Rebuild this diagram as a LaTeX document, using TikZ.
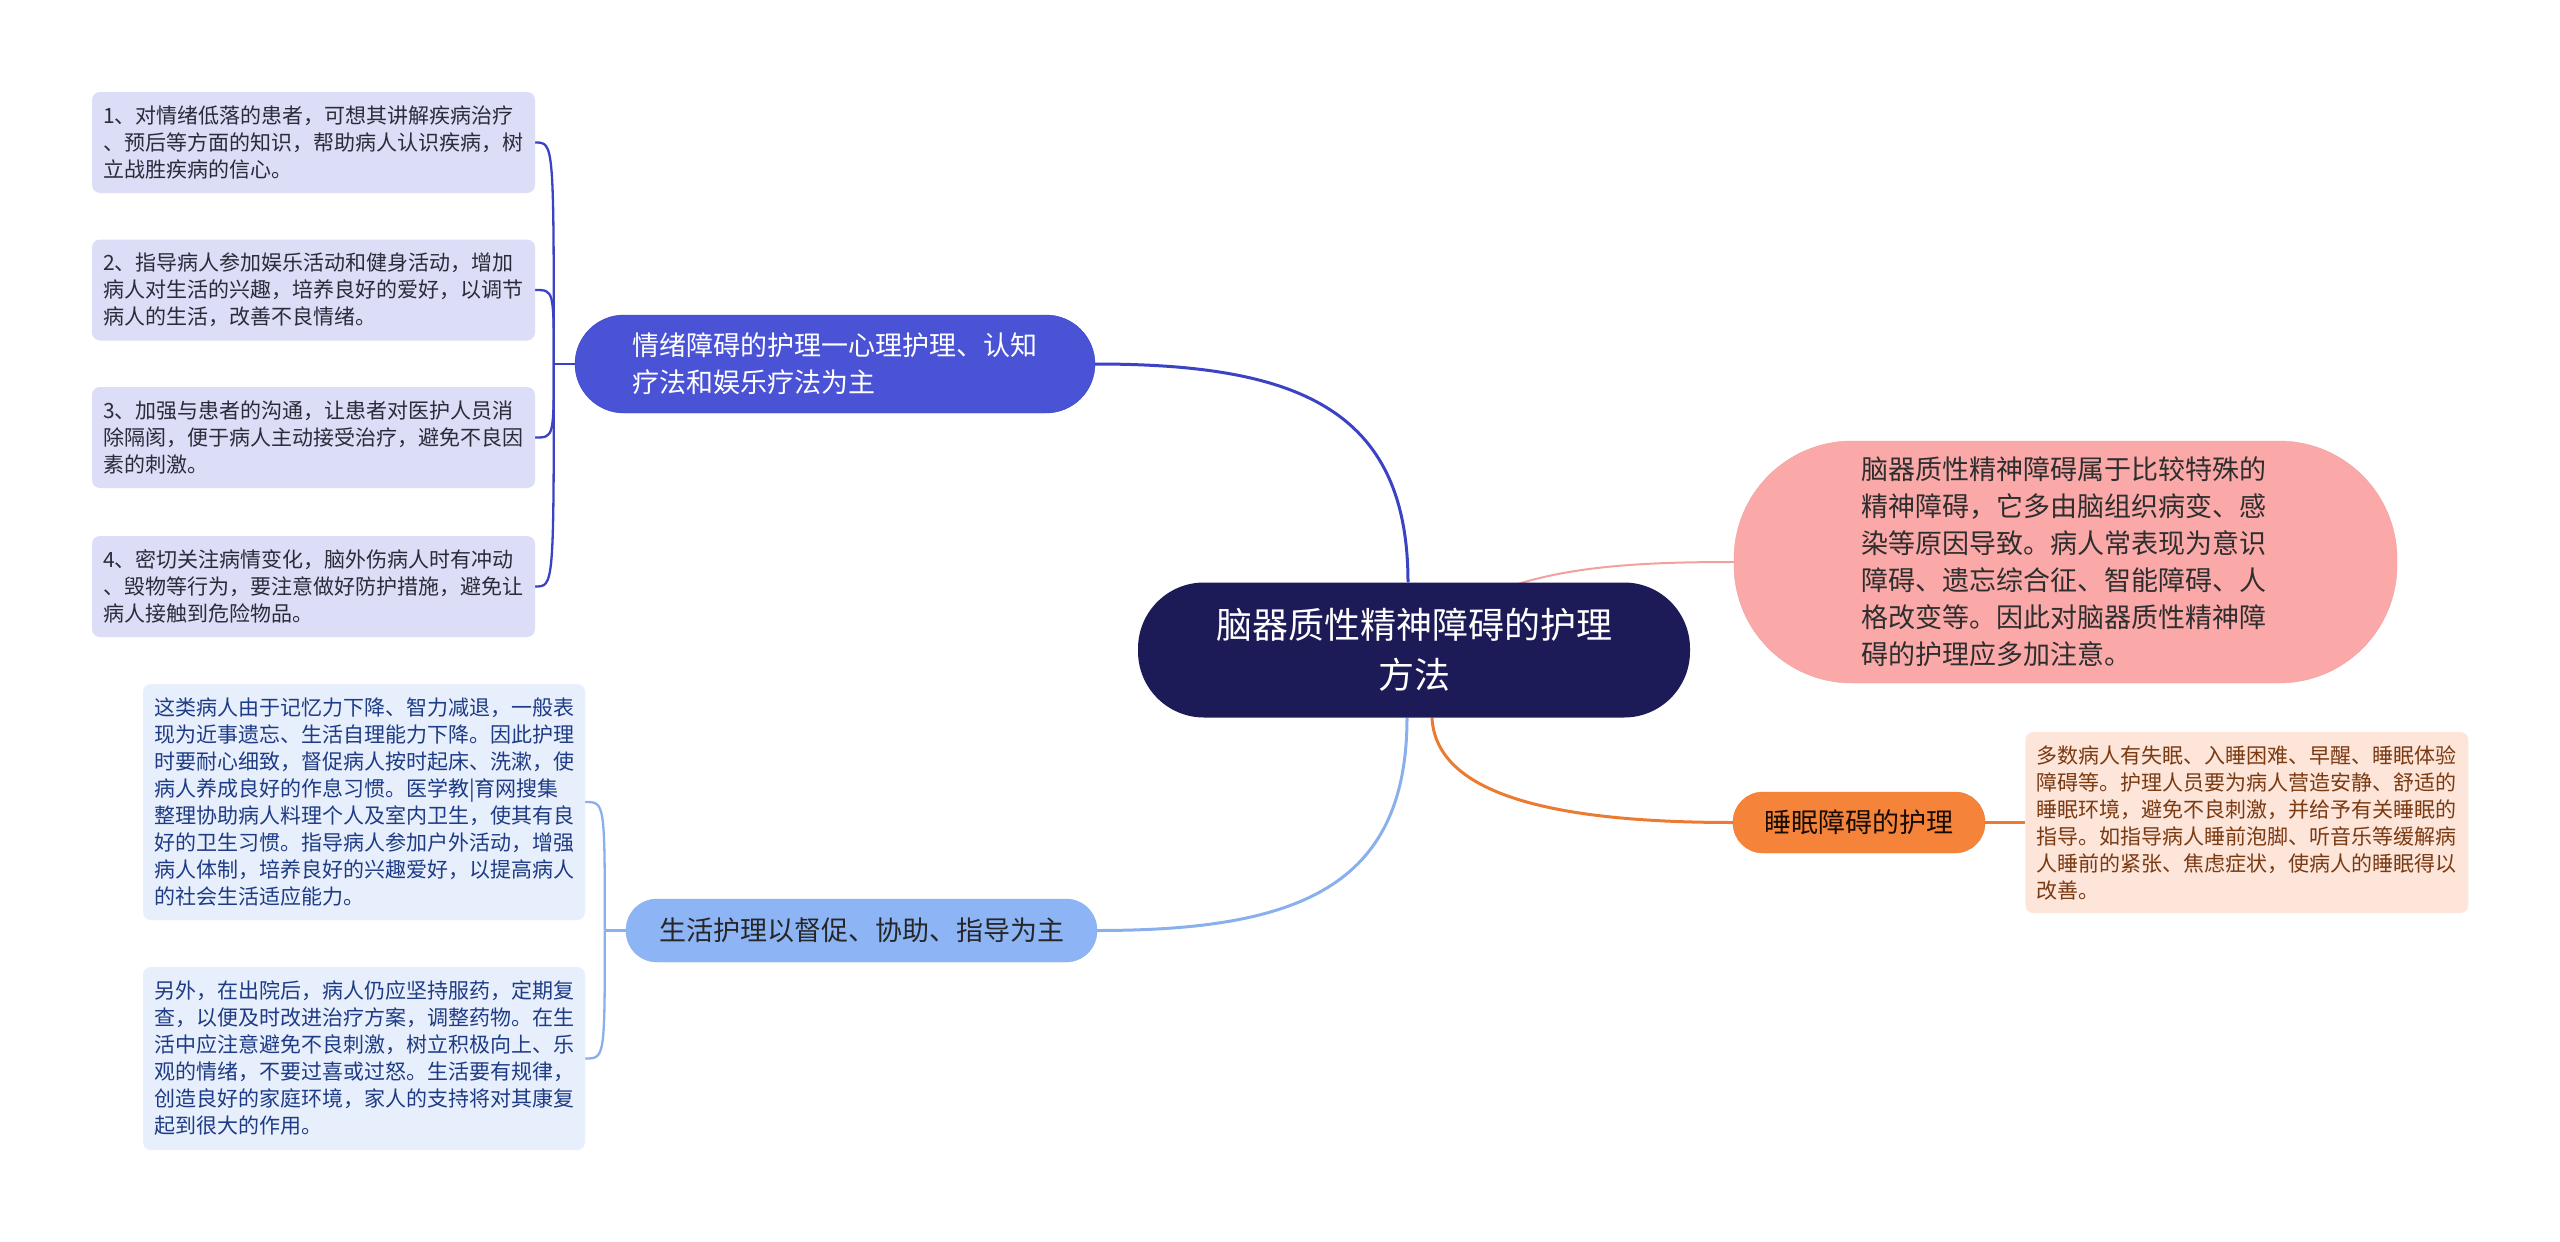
\documentclass[tikz,border=0pt]{standalone}
\usepackage{fontspec}
\newfontfamily\cjk{Noto Sans CJK SC}
\usetikzlibrary{positioning, calc, backgrounds}
\pgfdeclarelayer{paper}
\pgfsetlayers{paper,background,main}
\definecolor{rootNavy}{HTML}{1C1B58}
\definecolor{emoBlue}{HTML}{4A52D6}
\definecolor{emoLine}{HTML}{3B43C4}
\definecolor{emoLeaf}{HTML}{DCDDF6}
\definecolor{emoText}{HTML}{2B2B3A}
\definecolor{lifeBlue}{HTML}{8DB5F6}
\definecolor{lifeLine}{HTML}{8AB0EC}
\definecolor{lifeLeaf}{HTML}{E8EFFC}
\definecolor{lifeText}{HTML}{1E3C86}
\definecolor{sleepOrange}{HTML}{F5843A}
\definecolor{sleepLine}{HTML}{EC7A30}
\definecolor{sleepLeaf}{HTML}{FDE5DA}
\definecolor{sleepText}{HTML}{7A3A12}
\definecolor{introPink}{HTML}{FAA9A8}
\definecolor{introLine}{HTML}{F2A0A0}

\begin{document}
\begin{tikzpicture}[x=1pt, y=-1pt,
    leaf/.style={rounded corners=8pt, text width=421pt, inner xsep=11pt, align=left,
      font=\cjk\fontsize{21}{27}\selectfont},
    topic/.style={inner sep=0pt, font=\cjk\fontsize{27}{37}\selectfont},
    link/.style={line width=3pt},
    brace/.style={line width=2.3pt}]
    \begin{pgfonlayer}{paper}
      \fill[white] (0,0) rectangle (2560,1242);
    \end{pgfonlayer}
    \useasboundingbox (0,0) rectangle (2560,1242);

    % centre
    \node[fill=rootNavy, text=white, rounded corners=66pt, minimum width=552pt,
          minimum height=135pt, align=center, inner sep=0pt,
          font=\cjk\fontsize{36}{50}\selectfont] (root) at (1414,650)
      {脑器质性精神障碍的护理\\方法};

    % emotional care
    \node[topic, fill=emoBlue, draw=emoLine, text=white, rounded corners=49pt,
          minimum width=520pt, minimum height=98pt, text width=405pt, align=left] (emo) at (835,364)
      {情绪障碍的护理一心理护理、认知\\疗法和娱乐疗法为主};
    \node[leaf, fill=emoLeaf, text=emoText, minimum height=101pt] (emoa) at (313.5,142.5)
      {1、对情绪低落的患者，可想其讲解疾病治疗\\、预后等方面的知识，帮助病人认识疾病，树\\立战胜疾病的信心。};
    \node[leaf, fill=emoLeaf, text=emoText, minimum height=101pt] (emob) at (313.5,290)
      {2、指导病人参加娱乐活动和健身活动，增加\\病人对生活的兴趣，培养良好的爱好，以调节\\病人的生活，改善不良情绪。};
    \node[leaf, fill=emoLeaf, text=emoText, minimum height=101pt] (emoc) at (313.5,437.5)
      {3、加强与患者的沟通，让患者对医护人员消\\除隔阂，便于病人主动接受治疗，避免不良因\\素的刺激。};
    \node[leaf, fill=emoLeaf, text=emoText, minimum height=101pt] (emod) at (313.5,586.5)
      {4、密切关注病情变化，脑外伤病人时有冲动\\、毁物等行为，要注意做好防护措施，避免让\\病人接触到危险物品。};

    % daily life care
    \node[topic, fill=lifeBlue, draw=lifeLine, text=black!85, rounded corners=31pt,
          minimum width=471pt, minimum height=63pt] (life) at (861.5,930.5)
      {生活护理以督促、协助、指导为主};
    \node[leaf, fill=lifeLeaf, text=lifeText, text width=420pt, minimum height=236pt] (lifea) at (364,802)
      {这类病人由于记忆力下降、智力减退，一般表\\现为近事遗忘、生活自理能力下降。因此护理\\时要耐心细致，督促病人按时起床、洗漱，使\\病人养成良好的作息习惯。医学教|育网搜集\\整理协助病人料理个人及室内卫生，使其有良\\好的卫生习惯。指导病人参加户外活动，增强\\病人体制，培养良好的兴趣爱好，以提高病人\\的社会生活适应能力。};
    \node[leaf, fill=lifeLeaf, text=lifeText, text width=420pt, minimum height=183pt] (lifeb) at (364,1058.5)
      {另外，在出院后，病人仍应坚持服药，定期复\\查，以便及时改进治疗方案，调整药物。在生\\活中应注意避免不良刺激，树立积极向上、乐\\观的情绪，不要过喜或过怒。生活要有规律，\\创造良好的家庭环境，家人的支持将对其康复\\起到很大的作用。};

    % sleep care
    \node[topic, fill=sleepOrange, draw=sleepLine, text=black!80!sleepText, rounded corners=30pt,
          minimum width=252pt, minimum height=61pt] (sleep) at (1859,822.5)
      {睡眠障碍的护理};
    \node[leaf, fill=sleepLeaf, text=sleepText, minimum height=181pt, right=40pt of sleep] (sleepinfo)
      {多数病人有失眠、入睡困难、早醒、睡眠体验\\障碍等。护理人员要为病人营造安静、舒适的\\睡眠环境，避免不良刺激，并给予有关睡眠的\\指导。如指导病人睡前泡脚、听音乐等缓解病\\人睡前的紧张、焦虑症状，使病人的睡眠得以\\改善。};

    % introduction
    \node[topic, fill=introPink, draw=introLine, text=black!82, rounded corners=118pt,
          minimum width=663pt, minimum height=242pt, text width=408pt, align=left] (intro) at (2065.5,562)
      {脑器质性精神障碍属于比较特殊的\\精神障碍，它多由脑组织病变、感\\染等原因导致。病人常表现为意识\\障碍、遗忘综合征、智能障碍、人\\格改变等。因此对脑器质性精神障\\碍的护理应多加注意。};

    \begin{scope}[on background layer]
      \draw[link, emoLine] (emo.east) .. controls +(200,0) and +(0,-175) .. ([xshift=-6pt]root.north);
      \draw[link, lifeLine] (life.east) .. controls +(200,0) and +(0,170) .. ([xshift=-7pt]root.south);
      \draw[link, sleepLine] ([xshift=18pt]root.south) .. controls +(4,80) and +(-170,0) .. (sleep.west);
      \draw[link, sleepLine] (sleep.east) -- (sleepinfo.west);
      \draw[line width=2pt, introLine] (root.center) .. controls +(66,-80) and +(-134,0) .. (intro.west);

      \coordinate (emoj) at ([xshift=-21pt]emo.west);
      \draw[brace, emoLine] (emo.west) -- (emoj);
      \foreach \n in {emoa, emob, emoc, emod}
        \draw[brace, emoLine] (emoj) .. controls (emoj |- \n.east) .. (\n.east);

      \coordinate (lifej) at ([xshift=-21pt]life.west);
      \draw[brace, lifeLine] (life.west) -- (lifej);
      \foreach \n in {lifea, lifeb}
        \draw[brace, lifeLine] (lifej) .. controls (lifej |- \n.east) .. (\n.east);
    \end{scope}
  \end{tikzpicture}
\end{document}
